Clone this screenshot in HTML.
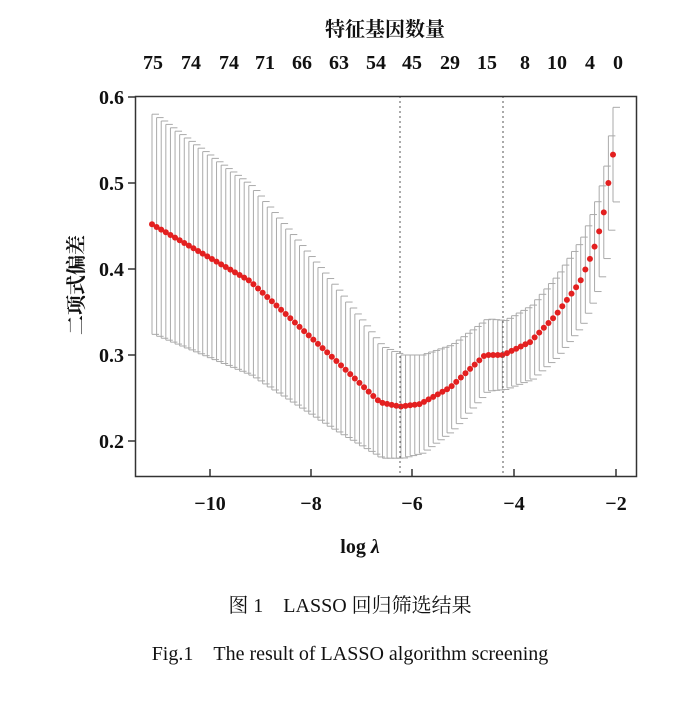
<!DOCTYPE html>
<html><head><meta charset="utf-8"><style>
body{margin:0;background:#fff;}
svg text{font-family:"Liberation Serif","Noto Serif CJK SC",serif;fill:#111;}
</style></head><body>
<svg id="s" width="700" height="696" xmlns="http://www.w3.org/2000/svg">
<rect width="700" height="696" fill="#fff"/>
<text x="385" y="36" font-size="20" text-anchor="middle" font-family="'Noto Sans CJK SC',sans-serif" font-weight="bold">特征基因数量</text>
<g font-size="20" text-anchor="middle" font-weight="bold">
<text x="153" y="69">75</text><text x="191" y="69">74</text><text x="229" y="69">74</text><text x="265" y="69">71</text><text x="302" y="69">66</text><text x="339" y="69">63</text><text x="376" y="69">54</text><text x="412" y="69">45</text><text x="450" y="69">29</text><text x="487" y="69">15</text><text x="525" y="69">8</text><text x="557" y="69">10</text><text x="590" y="69">4</text><text x="618" y="69">0</text>
</g>
<g id="bars" stroke="#aaa" stroke-width="1" fill="none"></g>
<g id="pts" fill="#e32020"></g>
<line x1="400" y1="96" x2="400" y2="477" stroke="#555" stroke-dasharray="2,3"/>
<line x1="503" y1="96" x2="503" y2="477" stroke="#555" stroke-dasharray="2,3"/>
<rect x="135.5" y="96.5" width="501" height="380" fill="none" stroke="#333" stroke-width="1.5"/>
<g stroke="#333" stroke-width="1.5">
<line x1="128" y1="97" x2="135" y2="97"/><line x1="128" y1="183" x2="135" y2="183"/><line x1="128" y1="269" x2="135" y2="269"/><line x1="128" y1="355" x2="135" y2="355"/><line x1="128" y1="441" x2="135" y2="441"/>
<line x1="210" y1="477" x2="210" y2="469"/><line x1="311" y1="477" x2="311" y2="469"/><line x1="412" y1="477" x2="412" y2="469"/><line x1="514" y1="477" x2="514" y2="469"/><line x1="616" y1="477" x2="616" y2="469"/>
</g>
<g font-size="20" text-anchor="end" font-weight="bold">
<text x="124" y="104">0.6</text><text x="124" y="190">0.5</text><text x="124" y="276">0.4</text><text x="124" y="362">0.3</text><text x="124" y="448">0.2</text>
</g>
<g font-size="20" text-anchor="middle" font-weight="bold">
<text x="210" y="510">−10</text><text x="311" y="510">−8</text><text x="412" y="510">−6</text><text x="514" y="510">−4</text><text x="616" y="510">−2</text>
</g>
<text x="360" y="553" font-size="20" text-anchor="middle" font-weight="bold">log <tspan font-style="italic">λ</tspan></text>
<text transform="translate(83,285) rotate(-90)" font-size="20" text-anchor="middle" font-family="'Noto Sans CJK SC',sans-serif" font-weight="bold">二项式偏差</text>
<text x="350" y="612" font-size="20" text-anchor="middle">图 1　LASSO 回归筛选结果</text>
<text x="350" y="660" font-size="20" text-anchor="middle">Fig.1　The result of LASSO algorithm screening</text>
</svg>
<script>
var cp=[[152,.452,.128],[250,.386,.11],[330,.300,.085],[380,.245,.065],[400,.240,.06],[420,.243,.057],[450,.262,.05],[485,.300,.042],[503,.300,.04],[530,.315,.043],[555,.345,.047],[580,.385,.05],[593,.42,.052],[600,.447,.053],[605,.472,.054],[609,.505,.055],[613,.533,.055]];
function interp(x){for(var i=0;i<cp.length-1;i++){if(x<=cp[i+1][0]){var a=cp[i],b=cp[i+1],t=(x-a[0])/(b[0]-a[0]);return [a[1]+t*(b[1]-a[1]),a[2]+t*(b[2]-a[2])];}}return [cp[cp.length-1][1],cp[cp.length-1][2]];}
function Y(v){return 97+(0.6-v)*860;}
var bars='',pts='',N=101;
for(var i=0;i<N;i++){var x=152+461*i/(N-1);var r=interp(x);var yu=Y(r[0]+r[1]),yl=Y(r[0]-r[1]);
bars+='<line x1="'+x+'" y1="'+yu+'" x2="'+x+'" y2="'+yl+'"/><line x1="'+x+'" y1="'+yu+'" x2="'+(x+7)+'" y2="'+yu+'"/><line x1="'+x+'" y1="'+yl+'" x2="'+(x+7)+'" y2="'+yl+'"/>';
pts+='<circle cx="'+x+'" cy="'+Y(r[0])+'" r="3"/>';}
document.getElementById('bars').innerHTML=bars;document.getElementById('pts').innerHTML=pts;
</script>
</body></html>
